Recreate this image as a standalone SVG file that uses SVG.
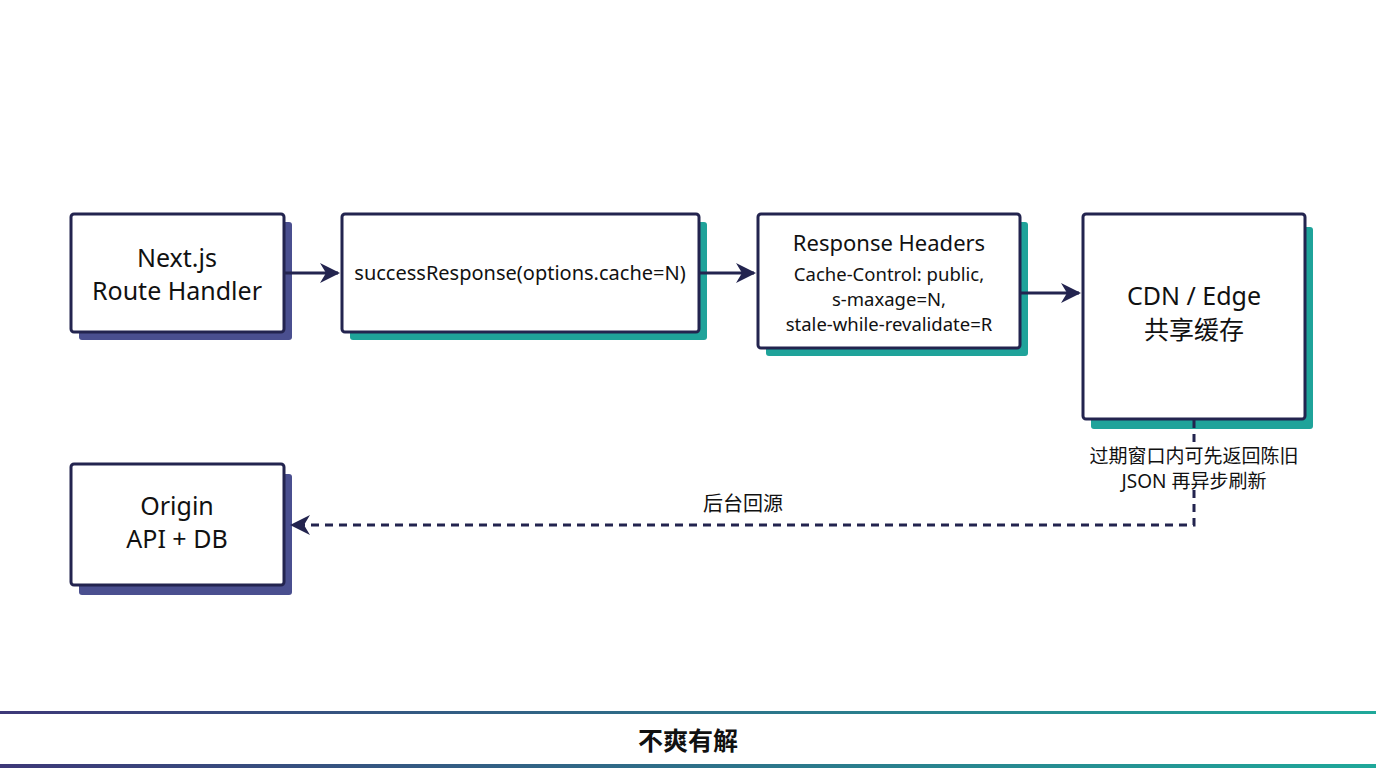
<svg xmlns="http://www.w3.org/2000/svg" width="1376" height="768" viewBox="0 0 1376 768">
<style>
.box{fill:#fff;stroke:#23244f;stroke-width:3}
.sp{fill:#4a4f8f}.st{fill:#1fa39a}
text{font-family:"Noto Sans","Noto Sans CJK SC",sans-serif;fill:#111;text-anchor:middle}
.l{font-size:25px}.m{font-size:20px}.h{font-size:18.5px}.s{font-size:19px}
.ln{stroke:#23244f;stroke-width:3;fill:none}
.d{stroke-dasharray:8 6}
</style>
<defs>
<marker id="ah" viewBox="0 0 10 10" refX="9" refY="5" markerWidth="20" markerHeight="20" markerUnits="userSpaceOnUse" orient="auto"><path d="M0,0L10,5L0,10L3,5z" fill="#23244f"/></marker>
<linearGradient id="g" x1="0" x2="1"><stop offset="0" stop-color="#3d3878"/><stop offset="1" stop-color="#1fa89a"/></linearGradient>
</defs>
<rect width="1376" height="768" fill="#fff"/>
<g id="n1"><rect class="sp" x="79" y="222" width="213" height="118" rx="3"/><rect class="box" x="71" y="214" width="213" height="118" rx="3"/><text class="l" x="177" y="267">Next.js</text><text class="l" x="177" y="300">Route Handler</text></g>
<g id="n2"><rect class="st" x="350" y="222" width="357" height="118" rx="3"/><rect class="box" x="342" y="214" width="357" height="118" rx="3"/><text class="m" x="520" y="280">successResponse(options.cache=N)</text></g>
<g id="n3"><rect class="st" x="766" y="222" width="262" height="134" rx="3"/><rect class="box" x="758" y="214" width="262" height="134" rx="3"/><text class="l" x="889" y="251" style="font-size:22px">Response Headers</text><text class="h" x="889" y="281">Cache-Control: public,</text><text class="h" x="889" y="306">s-maxage=N,</text><text class="h" x="889" y="331">stale-while-revalidate=R</text></g>
<g id="n4"><rect class="st" x="1091" y="227" width="222" height="202" rx="3"/><rect class="box" x="1083" y="214" width="222" height="205" rx="3"/><text class="l" x="1194" y="305">CDN / Edge</text><text class="l" x="1194" y="339">共享缓存</text></g>
<g id="n5"><rect class="sp" x="79" y="474" width="213" height="121" rx="3"/><rect class="box" x="71" y="464" width="213" height="121" rx="3"/><text class="l" x="177" y="515">Origin</text><text class="l" x="177" y="548">API + DB</text></g>
<g id="edges">
<line class="ln" x1="285" y1="273" x2="338" y2="273" marker-end="url(#ah)"/>
<line class="ln" x1="700" y1="273" x2="754" y2="273" marker-end="url(#ah)"/>
<line class="ln" x1="1021" y1="293" x2="1079" y2="293" marker-end="url(#ah)"/>
<line class="ln d" x1="1194" y1="420" x2="1194" y2="446"/>
<polyline class="ln d" points="1194,490 1194,525 292,525" marker-end="url(#ah)"/>
<text class="s" x="1194" y="463">过期窗口内可先返回陈旧</text>
<text class="s" x="1194" y="488">JSON 再异步刷新</text>
<text class="m" x="743" y="511">后台回源</text>
</g>
<rect x="0" y="711" width="1376" height="3" fill="url(#g)"/>
<rect x="0" y="764" width="1376" height="4" fill="url(#g)"/>
<text x="688" y="750" style="font-size:25px;font-weight:bold">不爽有解</text>
</svg>
